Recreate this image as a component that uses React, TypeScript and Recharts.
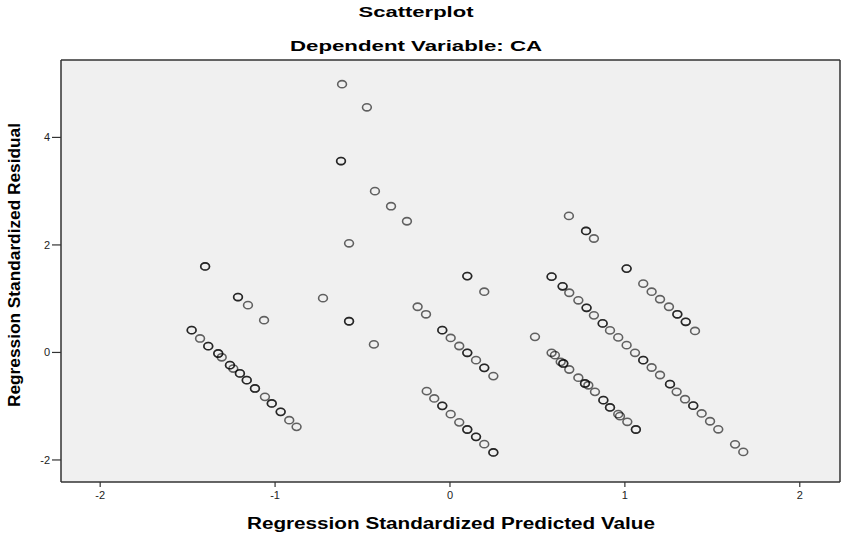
import React from "react";
import { ScatterChart, Scatter, XAxis, YAxis, CartesianGrid, ReferenceLine } from "recharts";

type P = { x: number; y: number };

// Tick labels
const xTicks = [-2, -1, 0, 1, 2];
const yTicks = [-2, 0, 2, 4];

// Scattered cases (upper / middle area)
const isolatedPoints: P[] = [
  { x: -0.617, y: 4.99 },
  { x: -0.475, y: 4.56 },
  { x: -0.623, y: 3.56 },
  { x: -0.623, y: 3.56 },
  { x: -0.429, y: 3.0 },
  { x: -0.337, y: 2.72 },
  { x: -0.246, y: 2.44 },
  { x: -0.577, y: 2.03 },
  { x: -0.726, y: 1.01 },
  { x: -0.577, y: 0.58 },
  { x: -0.577, y: 0.58 },
  { x: -0.435, y: 0.15 },
  { x: -1.4, y: 1.6 },
  { x: -1.4, y: 1.6 },
  { x: -1.212, y: 1.03 },
  { x: -1.212, y: 1.03 },
  { x: -1.155, y: 0.88 },
  { x: -1.063, y: 0.6 },
  { x: 0.099, y: 1.42 },
  { x: 0.099, y: 1.42 },
  { x: 0.196, y: 1.13 },
  { x: -0.185, y: 0.85 },
  { x: -0.137, y: 0.71 },
  { x: 0.486, y: 0.29 },
  { x: 0.68, y: 2.54 },
  { x: 0.778, y: 2.26 },
  { x: 0.778, y: 2.26 },
  { x: 0.823, y: 2.12 },
];

// Left diagonal band
const leftBand: P[] = [
  { x: -1.477, y: 0.415 },
  { x: -1.477, y: 0.415 },
  { x: -1.429, y: 0.26 },
  { x: -1.382, y: 0.117 },
  { x: -1.382, y: 0.117 },
  { x: -1.325, y: -0.02 },
  { x: -1.325, y: -0.02 },
  { x: -1.305, y: -0.09 },
  { x: -1.258, y: -0.236 },
  { x: -1.258, y: -0.236 },
  { x: -1.239, y: -0.3 },
  { x: -1.201, y: -0.39 },
  { x: -1.201, y: -0.39 },
  { x: -1.162, y: -0.515 },
  { x: -1.162, y: -0.515 },
  { x: -1.115, y: -0.67 },
  { x: -1.115, y: -0.67 },
  { x: -1.058, y: -0.826 },
  { x: -1.019, y: -0.949 },
  { x: -1.019, y: -0.949 },
  { x: -0.968, y: -1.105 },
  { x: -0.968, y: -1.105 },
  { x: -0.919, y: -1.26 },
  { x: -0.877, y: -1.384 },
];

// Centre bands
const centreUpperBand: P[] = [
  { x: -0.044, y: 0.415 },
  { x: -0.044, y: 0.415 },
  { x: 0.004, y: 0.27 },
  { x: 0.053, y: 0.12 },
  { x: 0.099, y: -0.007 },
  { x: 0.099, y: -0.007 },
  { x: 0.149, y: -0.143 },
  { x: 0.196, y: -0.287 },
  { x: 0.196, y: -0.287 },
  { x: 0.248, y: -0.44 },
];

const centreLowerBand: P[] = [
  { x: -0.133, y: -0.72 },
  { x: -0.09, y: -0.856 },
  { x: -0.044, y: -0.993 },
  { x: -0.044, y: -0.993 },
  { x: 0.004, y: -1.148 },
  { x: 0.053, y: -1.3 },
  { x: 0.099, y: -1.433 },
  { x: 0.099, y: -1.433 },
  { x: 0.149, y: -1.57 },
  { x: 0.149, y: -1.57 },
  { x: 0.196, y: -1.706 },
  { x: 0.248, y: -1.86 },
  { x: 0.248, y: -1.86 },
];

// Right bands
const rightMainBand: P[] = [
  { x: 0.581, y: 1.41 },
  { x: 0.581, y: 1.41 },
  { x: 0.644, y: 1.23 },
  { x: 0.644, y: 1.23 },
  { x: 0.682, y: 1.11 },
  { x: 0.734, y: 0.97 },
  { x: 0.781, y: 0.83 },
  { x: 0.781, y: 0.83 },
  { x: 0.823, y: 0.69 },
  { x: 0.873, y: 0.54 },
  { x: 0.873, y: 0.54 },
  { x: 0.915, y: 0.41 },
  { x: 0.962, y: 0.28 },
  { x: 1.01, y: 0.136 },
  { x: 1.058, y: -0.007 },
  { x: 1.105, y: -0.143 },
  { x: 1.105, y: -0.143 },
  { x: 1.153, y: -0.28 },
  { x: 1.201, y: -0.42 },
  { x: 1.258, y: -0.59 },
  { x: 1.258, y: -0.59 },
  { x: 1.296, y: -0.733 },
  { x: 1.344, y: -0.87 },
  { x: 1.391, y: -0.99 },
  { x: 1.391, y: -0.99 },
  { x: 1.439, y: -1.135 },
  { x: 1.487, y: -1.28 },
  { x: 1.534, y: -1.43 },
  { x: 1.63, y: -1.71 },
  { x: 1.677, y: -1.85 },
];

const rightUpperBand: P[] = [
  { x: 1.01, y: 1.56 },
  { x: 1.01, y: 1.56 },
  { x: 1.105, y: 1.28 },
  { x: 1.153, y: 1.13 },
  { x: 1.201, y: 0.99 },
  { x: 1.252, y: 0.85 },
  { x: 1.3, y: 0.71 },
  { x: 1.3, y: 0.71 },
  { x: 1.348, y: 0.57 },
  { x: 1.348, y: 0.57 },
  { x: 1.401, y: 0.4 },
];

const rightLowerBand: P[] = [
  { x: 0.581, y: -0.007 },
  { x: 0.6, y: -0.05 },
  { x: 0.633, y: -0.175 },
  { x: 0.648, y: -0.205 },
  { x: 0.648, y: -0.205 },
  { x: 0.682, y: -0.317 },
  { x: 0.734, y: -0.47 },
  { x: 0.772, y: -0.577 },
  { x: 0.772, y: -0.577 },
  { x: 0.791, y: -0.61 },
  { x: 0.829, y: -0.733 },
  { x: 0.877, y: -0.887 },
  { x: 0.877, y: -0.887 },
  { x: 0.915, y: -1.023 },
  { x: 0.915, y: -1.023 },
  { x: 0.962, y: -1.148 },
  { x: 0.972, y: -1.185 },
  { x: 1.014, y: -1.29 },
  { x: 1.063, y: -1.433 },
  { x: 1.063, y: -1.433 },
];

const groups: P[][] = [
  isolatedPoints,
  leftBand,
  centreUpperBand,
  centreLowerBand,
  rightMainBand,
  rightUpperBand,
  rightLowerBand,
];

const X_DOMAIN: [number, number] = [-2.224, 2.23];
const Y_DOMAIN: [number, number] = [-2.41, 5.44];

const FONT = "'Liberation Sans', Arial, sans-serif";

const Ring = (props: any) => {
  const { cx, cy } = props;
  if (cx == null || cy == null) return null;
  return (
    <ellipse
      cx={cx}
      cy={cy}
      rx={4.4}
      ry={3.6}
      fill="none"
      stroke="#000"
      strokeOpacity={0.6}
      strokeWidth={1.6}
    />
  );
};

export default function App() {
  return (
    <div
      style={{
        position: "absolute",
        left: 0,
        top: 0,
        width: 842,
        height: 533,
        background: "#ffffff",
      }}
    >
      <ScatterChart
        width={842}
        height={533}
        margin={{ top: 60, right: 2, bottom: 0, left: 0 }}
      >
        <CartesianGrid
          horizontal={false}
          vertical={false}
          fill="#f0f0f0"
        />
        <XAxis
          type="number"
          dataKey="x"
          domain={X_DOMAIN}
          ticks={xTicks}
          allowDataOverflow
          height={51}
          tickSize={5}
          tickMargin={4}
          axisLine={{ stroke: "#333", strokeWidth: 1.5 }}
          tickLine={{ stroke: "#333", strokeWidth: 1.2 }}
          tick={{ fontSize: 11, fill: "#222", fontFamily: FONT }}
        />
        <YAxis
          type="number"
          dataKey="y"
          domain={Y_DOMAIN}
          ticks={yTicks}
          allowDataOverflow
          width={61}
          tickSize={9}
          tickMargin={2}
          axisLine={{ stroke: "#333", strokeWidth: 1.5 }}
          tickLine={{ stroke: "#333", strokeWidth: 1.2 }}
          tick={{ fontSize: 11, fill: "#222", fontFamily: FONT }}
        />
        <ReferenceLine y={Y_DOMAIN[1]} stroke="#333" strokeWidth={1.5} />
        <ReferenceLine x={X_DOMAIN[1]} stroke="#333" strokeWidth={1.5} />
        {groups.map((g, i) => (
          <Scatter
            key={i}
            data={g}
            shape={Ring}
            isAnimationActive={false}
          />
        ))}
      </ScatterChart>
      <svg
        width={842}
        height={533}
        style={{ position: "absolute", left: 0, top: 0, pointerEvents: "none" }}
      >
        <text
          x={416}
          y={17}
          textAnchor="middle"
          fontFamily={FONT}
          fontWeight="bold"
          fontSize={15}
          fill="#000"
          textLength={115}
          lengthAdjust="spacingAndGlyphs"
        >
          Scatterplot
        </text>
        <text
          x={416}
          y={51}
          textAnchor="middle"
          fontFamily={FONT}
          fontWeight="bold"
          fontSize={15}
          fill="#000"
          textLength={252}
          lengthAdjust="spacingAndGlyphs"
        >
          Dependent Variable: CA
        </text>
        <text
          x={451}
          y={529}
          textAnchor="middle"
          fontFamily={FONT}
          fontWeight="bold"
          fontSize={16}
          fill="#000"
          textLength={408}
          lengthAdjust="spacingAndGlyphs"
        >
          Regression Standardized Predicted Value
        </text>
        <text
          x={0}
          y={0}
          transform="translate(20,265) rotate(-90)"
          textAnchor="middle"
          fontFamily={FONT}
          fontWeight="bold"
          fontSize={16}
          fill="#000"
          textLength={284}
          lengthAdjust="spacingAndGlyphs"
        >
          Regression Standardized Residual
        </text>
      </svg>
    </div>
  );
}
